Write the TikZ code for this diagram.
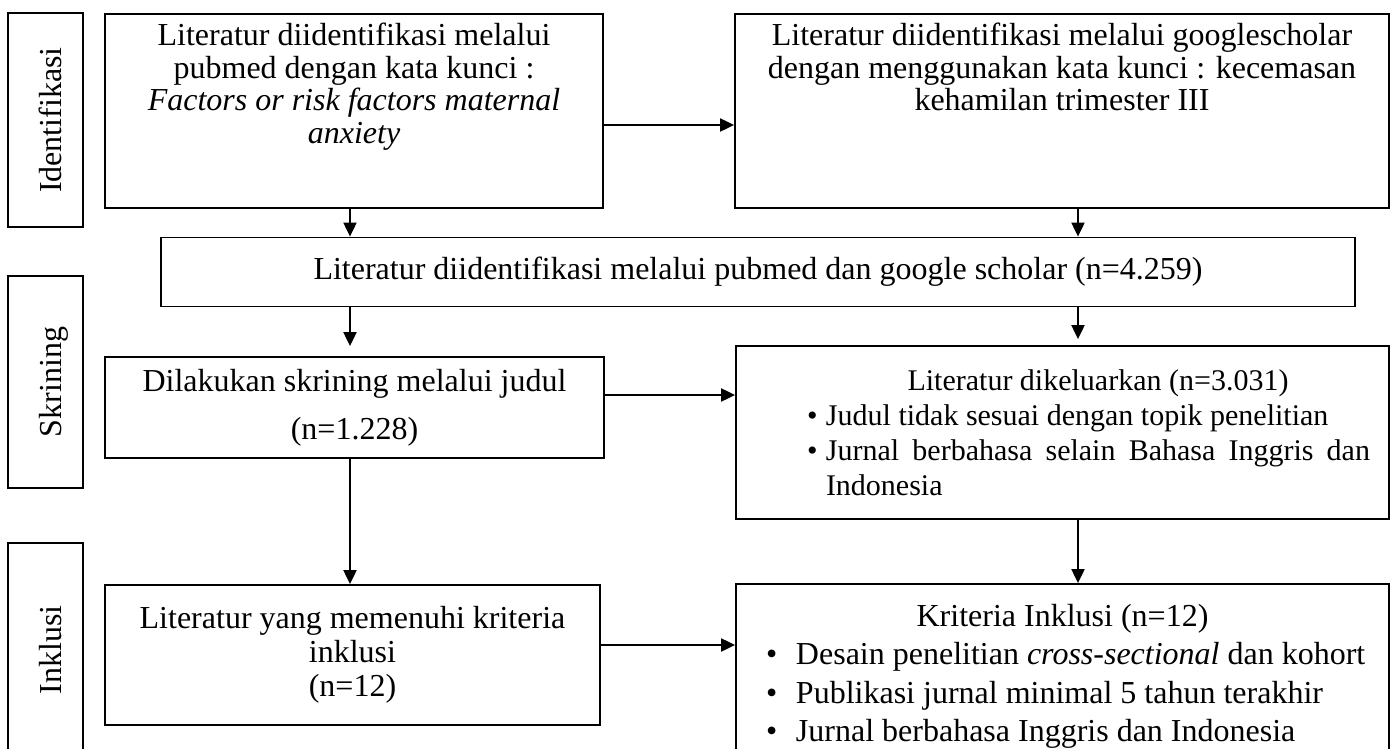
\documentclass[tikz,border=0pt]{standalone}
\usepackage{fontspec}
\setmainfont{Liberation Serif}
\usetikzlibrary{arrows.meta}

\newcommand{\isi}[5]{\parbox[c][#2][#3]{#1}{\fontsize{16}{#4}\selectfont\centering #5}}
\newcommand{\butir}[1]{\leavevmode\llap{\makebox[#1][l]{\textbullet}}}

\begin{document}
\begin{tikzpicture}[x=0.5pt,y=-0.5pt,
  kotak/.style={draw,line width=0.9pt,inner sep=0pt},
  tahap/.style={draw,line width=0.9pt,inner sep=0pt,rotate=90,minimum height=37.5pt,
    text height=16pt,text depth=0pt,font=\fontsize{16}{19}\selectfont},
  panah/.style={-{Triangle[length=7pt,width=6.5pt]},line width=1pt}]
\clip (0,0) rectangle (1398,749);

% label tahap
\node[tahap,minimum width=107pt] (idlab) at (45.5,120) {Identifikasi};
\node[tahap,minimum width=106pt] (sklab) at (45.5,382) {Skrining};
\node[tahap,minimum width=107pt] (inlab) at (45.5,650) {Inklusi};

% identifikasi
\node[kotak] (pubmed) at (354,111) {\isi{249pt}{97pt}{t}{16.25pt}{\rule{0pt}{16pt}Literatur diidentifikasi melalui\\
  pubmed dengan kata kunci :\\ \textit{Factors or risk factors maternal}\\ \textit{anxiety}}};
\node[kotak] (scholar) at (1062,111) {\isi{327pt}{97pt}{t}{16.25pt}{\rule{0pt}{16pt}Literatur diidentifikasi melalui googlescholar\\
  dengan menggunakan kata kunci : kecemasan\\ kehamilan trimester III}};
\node[kotak] (gabung) at (758,272) {\isi{597pt}{34.5pt}{c}{19pt}{Literatur diidentifikasi melalui pubmed dan google scholar (n=4.259)}};

% skrining
\node[kotak] (judul) at (354.5,407.5) {\isi{249.5pt}{50.5pt}{c}{24pt}{Dilakukan skrining melalui judul\\ (n=1.228)}};
\node[kotak] (keluar) at (1062.5,432.5) {\parbox[c][86.5pt][c]{326.5pt}{\fontsize{15}{17.5}\selectfont
  \parindent=0pt \hyphenpenalty=10000 \tolerance=9999
  \leftskip=45pt plus 1fil \rightskip=9.5pt plus 1fil \parfillskip=0pt
  Literatur dikeluarkan (n=3.031)\par
  \leftskip=45pt \rightskip=9.5pt \parfillskip=0pt plus 1fil
  \butir{9.5pt}Judul tidak sesuai dengan topik penelitian\par
  \butir{9.5pt}Jurnal berbahasa selain Bahasa Inggris dan Indonesia\par}};

% inklusi
\node[kotak] (memenuhi) at (352.5,655) {\isi{247.5pt}{70pt}{c}{17pt}{Literatur yang memenuhi kriteria\\ inklusi\\ (n=12)}};
\node[kotak] (kriteria) at (1062.5,676.5) {\parbox[c][92.5pt][c]{326.5pt}{\fontsize{16}{19.25}\selectfont
  \centering Kriteria Inklusi (n=12)\par
  \raggedright \leftskip=30pt
  \butir{15pt}Desain penelitian \textit{cross-sectional} dan kohort\par
  \butir{15pt}Publikasi jurnal minimal 5 tahun terakhir\par
  \butir{15pt}Jurnal berbahasa Inggris dan Indonesia\par}};

% panah
\coordinate (kiri) at (350,0);
\coordinate (kanan) at (1078,0);
\coordinate (barisa) at (0,125);
\coordinate (barisc) at (0,395);
\coordinate (barise) at (0,645);
\draw[panah] (pubmed.east |- barisa) -- (scholar.west |- barisa);
\draw[panah] (pubmed.south -| kiri) -- (gabung.north -| kiri);
\draw[panah] (scholar.south -| kanan) -- (gabung.north -| kanan);
\draw[panah] (gabung.south -| kiri) -- ([yshift=5pt]judul.north -| kiri);
\draw[panah] (gabung.south -| kanan) -- ([yshift=3pt]keluar.north -| kanan);
\draw[panah] (judul.east |- barisc) -- (keluar.west |- barisc);
\draw[panah] (judul.south -| kiri) -- (memenuhi.north -| kiri);
\draw[panah] (keluar.south -| kanan) -- (kriteria.north -| kanan);
\draw[panah] (memenuhi.east |- barise) -- (kriteria.west |- barise);
\end{tikzpicture}
\end{document}
